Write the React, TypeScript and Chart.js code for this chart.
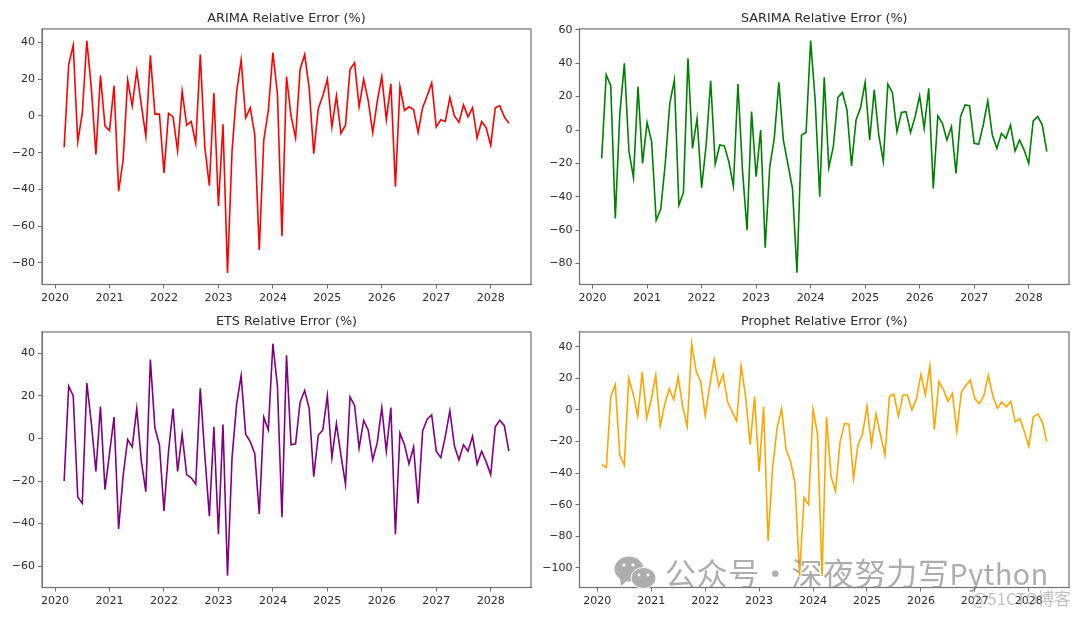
import React, { useEffect, useRef } from "react";
import { Chart, registerables } from "chart.js";

Chart.register(...registerables);

const arimaValues = [
  -17, 28, 38.5, -14, 1.5, 41, 15, -21, 22, -5.5,
  -8, 16.5, -41, -24, 19.5, 5.5, 24.5, 6, -11, 33, 1, 1,
  -31, 1.5, -0.5, -19, 13.5, -5, -3, -15, 33.5, -17, -38, 12.5,
  -49, -4.5, -85.5, -19, 13, 30.5, -1, 4.5, -10, -73, -13, 3,
  34.5, 12, -65.5, 21.5, 0, -12, 25.5, 33.5, 15, -20.5, 4, 11,
  20, -6, 11, -9.5, -5, 25.5, 29, 5, 20, 8.5, -9, 8,
  21.5, -2, 17.5, -38.5, 16, 3, 5, 3.5, -9, 4.5, 11, 18,
  -6, -2, -3, 10, 0, -3.5, 6, -0.5, 4.5, -12, -3, -6.5,
  -16, 4.5, 5.5, -0.5, -4,
];
const sarimaValues = [
  -17, 33, 26.5, -53, 10, 40, -12.5, -28.5, 26, -20,
  4.5, -7, -54, -47.5, -20, 16, 30, -45, -37.5, 43, -11, 7,
  -34.5, -9, 29.5, -20.5, -9, -9.5, -19, -33.5, 27.5, -24, -60, 11,
  -28, 0, -70.5, -22, -5, 28.5, -6, -20.5, -35, -85.5, -3, -1.5,
  53.5, 18, -40, 31.5, -22.5, -10, 19.5, 22.5, 12, -21.5, 6, 13.5,
  28.5, -6, 24, -3, -18.7, 27.5, 22.5, -1, 10.5, 11, -1.5, 8,
  20.5, 1, 25, -35, 8.5, 4, -6, 2, -26, 8, 15, 14.5,
  -8, -8.5, 3, 17.5, -3, -11, -2, -5, 3, -12.5, -6, -12,
  -20, 5.5, 8, 3, -13,
];
const etsValues = [
  -20, 24.5, 20, -27.5, -30.5, 26, 7, -15.5, 15, -24,
  -7, 10, -42.5, -17.5, -0.5, -4, 14, -10.5, -25, 37, 5, -3,
  -34, -6, 14, -15.5, 2, -17, -18.5, -21.5, 23.5, -8, -36.5, 5.5,
  -45, 6.5, -64.5, -9, 16, 29.5, 2, -1.5, -7, -35.5, 10, 4,
  44.5, 24.5, -37, 39, -3, -2.5, 17, 22.5, 14, -18, 1.5, 4,
  20, -9, 7, -8, -21.5, 19.5, 15.5, -4.5, 8.5, 4, -10, -2,
  14.5, -6, 14.5, -45, 2.5, -3, -12, -4, -30.5, 3.5, 9, 11,
  -6, -9, 1, 13, -3.5, -10, -3, -6, 1, -12, -6, -11,
  -17, 5.5, 8.5, 6, -6,
];
const prophetValues = [
  -34.5, -36.5, 8.5, 16, -28.5, -35, 20, 10, -4, 24, -5,
  6.5, 22, -10, 3.5, 13.5, 6.5, 21, 2, -10.5, 42, 24.5, 18,
  -3.5, 15, 32, 15, 22.5, 5, -1, -7, 28, 8.5, -22, 8.5,
  -39, 2, -83, -36.5, -11.5, 1, -25, -32.5, -47, -105, -55.5, -60,
  0.5, -15.5, -105, -4.5, -42, -51.5, -20.5, -8.5, -9, -43.5, -22, -15.5,
  2.5, -22, -2.5, -15.5, -28.5, 8.5, 10, -4, 9.5, 9.5, 0, 7,
  22.5, 9.5, 28, -12.5, 18, 13, 5.5, 10.5, -13.5, 11, 15.5, 19,
  7, 4, 9, 22, 9, 1, 5, 2, 5.5, -7.5, -5.5, -13.5,
  -23, -4.5, -2.5, -7.5, -20,
];

const xYears = [2020, 2021, 2022, 2023, 2024, 2025, 2026, 2027, 2028];
const titles = ["ARIMA Relative Error (%)", "SARIMA Relative Error (%)", "ETS Relative Error (%)", "Prophet Relative Error (%)"];
const seriesColors = ["#ff0000", "#008000", "#800080", "#ffa500"];
const seriesList = [arimaValues, sarimaValues, etsValues, prophetValues];
const firstMonths = [2, 2, 2, 1];
const yTicksList = [
  [-80, -60, -40, -20, 0, 20, 40],
  [-80, -60, -40, -20, 0, 20, 40, 60],
  [-60, -40, -20, 0, 20, 40],
  [-100, -80, -60, -40, -20, 0, 20, 40],
];
const yLimits = [[-91.8, 47.4], [-92.5, 60.5], [-70, 50], [-112.4, 49.4]];
const xLimits = [[2019.76, 2028.74], [2019.76, 2028.74], [2019.76, 2028.74], [2019.67, 2028.746]];
const cells = [
  { left: 0, top: 0, width: 540, height: 308, axisW: 42, axisH: 23.5, padR: 9, titleTop: 10.8, titleBottom: 2.8 },
  { left: 540, top: 0, width: 540, height: 308, axisW: 39.5, axisH: 23.5, padR: 11, titleTop: 10.8, titleBottom: 2.8 },
  { left: 0, top: 308, width: 540, height: 309, axisW: 42, axisH: 29.5, padR: 9, titleTop: 6.2, titleBottom: 2.4 },
  { left: 540, top: 308, width: 540, height: 309, axisW: 39.5, axisH: 29.5, padR: 11, titleTop: 6.2, titleBottom: 2.4 },
];
const FONT = "'DejaVu Sans', sans-serif";
const TEXT = "#2b2b2b";
const FRAME = "#707070";

const framePlugin = {
  id: "frame",
  afterDatasetsDraw(chart: any) {
    const { ctx, chartArea: a } = chart;
    ctx.save();
    ctx.strokeStyle = FRAME;
    ctx.lineWidth = 1.2;
    ctx.strokeRect(a.left, a.top, a.right - a.left, a.bottom - a.top);
    ctx.restore();
  },
};

function Panel({ index }: { index: number }) {
  const ref = useRef<HTMLCanvasElement | null>(null);
  const cell = cells[index];
  useEffect(() => {
    const points = seriesList[index].map((y, i) => ({ x: 2020 + (firstMonths[index] + i) / 12, y }));
    const chart = new Chart(ref.current!, {
      type: "line",
      data: {
        datasets: [{
          data: points,
          borderColor: seriesColors[index],
          borderWidth: 1.6,
          pointRadius: 0,
          tension: 0,
        }],
      },
      plugins: [framePlugin],
      options: {
        animation: false,
        responsive: false,
        layout: { padding: { right: cell.padR, top: 0, left: 0, bottom: 0 } },
        plugins: {
          legend: { display: false },
          tooltip: { enabled: false },
          title: {
            display: true,
            text: titles[index],
            fullSize: false,
            color: TEXT,
            font: { family: FONT, size: 12.8, weight: "normal", lineHeight: 1.2 },
            padding: { top: cell.titleTop, bottom: cell.titleBottom },
          },
        },
        scales: {
          x: {
            type: "linear",
            min: xLimits[index][0],
            max: xLimits[index][1],
            afterBuildTicks: (s: any) => { s.ticks = xYears.map((value) => ({ value })); },
            afterFit: (s: any) => { s.height = cell.axisH; },
            grid: { drawOnChartArea: false, drawTicks: true, tickLength: 4, tickColor: FRAME },
            border: { color: FRAME, width: 1 },
            ticks: {
              autoSkip: false,
              maxRotation: 0,
              padding: 3,
              color: TEXT,
              font: { family: FONT, size: 11 },
              callback: (v: any) => String(v),
            },
          },
          y: {
            type: "linear",
            min: yLimits[index][0],
            max: yLimits[index][1],
            afterBuildTicks: (s: any) => { s.ticks = yTicksList[index].map((value) => ({ value })); },
            afterFit: (s: any) => { s.width = cell.axisW; },
            grid: { drawOnChartArea: false, drawTicks: true, tickLength: 4, tickColor: FRAME },
            border: { color: FRAME, width: 1 },
            ticks: {
              autoSkip: false,
              padding: 3,
              color: TEXT,
              font: { family: FONT, size: 11 },
              callback: (v: any) => String(v).replace("-", "\u2212"),
            },
          },
        },
      },
    } as any);
    return () => chart.destroy();
  }, []);
  return (
    <canvas
      ref={ref}
      width={cell.width}
      height={cell.height}
      style={{ position: "absolute", left: cell.left, top: cell.top, width: cell.width, height: cell.height }}
    />
  );
}

function Watermark() {
  return (
    <div style={{ position: "absolute", left: 0, top: 0, width: 1080, height: 617, pointerEvents: "none" }}>
      <svg width={1080} height={617} style={{ position: "absolute", left: 0, top: 0 }}>
        <ellipse cx={629} cy={569} rx={14.5} ry={12.5} fill="#adadad" />
        <path d="M620 578 L621 586 L628 580 Z" fill="#adadad" />
        <ellipse cx={643.5} cy={578} rx={12.5} ry={10.5} fill="#adadad" stroke="#ffffff" strokeWidth={1} />
        <circle cx={624} cy={565} r={1.6} fill="#ffffff" />
        <circle cx={633} cy={565} r={1.6} fill="#ffffff" />
        <circle cx={639} cy={575} r={1.4} fill="#ffffff" />
        <circle cx={648} cy={575} r={1.4} fill="#ffffff" />
      </svg>
      <div style={{ position: "absolute", left: 665, top: 552, fontFamily: "'Noto Sans CJK SC', 'DejaVu Sans', sans-serif", fontSize: 31, lineHeight: "40px", color: "rgba(130,130,130,0.66)", whiteSpace: "nowrap", letterSpacing: 0.6, wordSpacing: -7.5 }}>
        公众号 · 深夜努力写<span style={{ fontSize: 28.5 }}>Python</span>
      </div>
      <div style={{ position: "absolute", left: 972, top: 589, fontFamily: "'Noto Sans CJK SC', 'DejaVu Sans', sans-serif", fontSize: 16.5, lineHeight: "18px", color: "rgba(150,150,150,0.6)", whiteSpace: "nowrap" }}>
        @51CTO博客
      </div>
    </div>
  );
}

export default function App() {
  return (
    <div style={{ position: "absolute", left: 0, top: 0, width: 1080, height: 617, background: "#ffffff", overflow: "hidden" }}>
      {titles.map((_, i) => <Panel key={i} index={i} />)}
      <Watermark />
    </div>
  );
}
